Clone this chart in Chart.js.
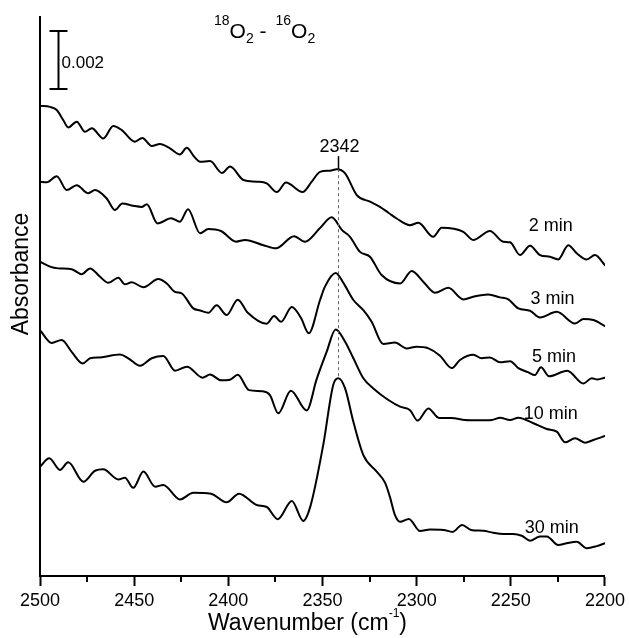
<!DOCTYPE html>
<html>
<head>
<meta charset="utf-8">
<script src="https://cdn.jsdelivr.net/npm/chart.js@4.4.1/dist/chart.umd.min.js"></script>
<style>
  body { margin: 0; background: #fff; }
  #wrap { width: 629px; height: 638px; }
</style>
</head>
<body>
<div id="wrap"><canvas id="myChart" width="629" height="638"></canvas></div>
<script>
// Wavenumber in cm-1, absorbance in units of 0.001 (curves stacked with their offsets as in the figure)
const wn2min = [2500, 2494.7, 2491.1, 2487.6, 2485.0, 2480.5, 2476.1, 2472.5, 2466.4, 2461.1, 2456.6, 2449.6, 2445.7, 2440.7, 2436.3, 2431.0, 2425.7, 2422.1, 2418.1, 2415.0, 2409.7, 2403.4, 2399.1, 2392.0, 2384.9, 2379.6, 2374.2, 2369.4, 2360.6, 2355.7, 2351.3, 2346.0, 2342.4, 2338.0, 2331.8, 2324.8, 2319.5, 2315.0, 2310.6, 2303.5, 2299.1, 2291.2, 2286.7, 2275.2, 2270.0, 2261.1, 2254.0, 2250.4, 2245.1, 2239.8, 2234.5, 2229.2, 2224.8, 2219.5, 2215.0, 2209.7, 2205.3, 2200];
const abs2min = [16.22, 16.18, 16.07, 15.72, 15.47, 15.67, 15.32, 15.44, 15.09, 15.52, 15.38, 14.98, 15.11, 14.83, 14.90, 14.75, 14.54, 14.77, 14.46, 14.29, 14.31, 13.90, 14.12, 13.66, 13.60, 13.54, 13.24, 13.57, 13.24, 13.60, 13.94, 13.98, 14.03, 13.89, 13.14, 12.91, 12.73, 12.53, 12.33, 12.10, 12.18, 11.70, 12.01, 11.87, 11.59, 11.90, 11.53, 11.51, 11.07, 11.39, 11.07, 11.01, 10.92, 11.41, 11.13, 10.92, 11.07, 10.72];

const wn3min = [2500, 2496.4, 2491.1, 2485.8, 2480.5, 2474.4, 2470.8, 2464.6, 2460.2, 2456.3, 2450.5, 2446.0, 2443.3, 2437.6, 2430.4, 2425.7, 2421.4, 2415.0, 2410.6, 2403.9, 2395.9, 2391.1, 2381.4, 2374.7, 2365.1, 2359.3, 2351.3, 2345.1, 2339.6, 2335.4, 2330.1, 2324.8, 2318.6, 2308.8, 2302.6, 2296.5, 2290.3, 2283.2, 2275.2, 2270.0, 2262.0, 2255.7, 2251.3, 2246.0, 2239.8, 2234.5, 2225.6, 2215.9, 2211.4, 2206.2, 2200];
const abs3min = [13.60, 13.58, 13.79, 13.31, 13.48, 13.20, 13.31, 13.02, 12.62, 12.85, 12.77, 12.73, 12.82, 12.16, 12.34, 12.22, 12.65, 11.82, 11.97, 11.90, 11.53, 11.59, 11.41, 11.30, 11.72, 11.53, 12.00, 12.37, 11.93, 11.70, 11.18, 11.01, 10.38, 10.09, 10.52, 10.15, 9.77, 9.94, 9.54, 9.63, 9.71, 9.61, 9.54, 9.23, 9.15, 8.92, 9.11, 8.71, 8.86, 8.83, 8.62];

const wn5min = [2500, 2494.7, 2490.3, 2483.2, 2477.9, 2473.4, 2468.1, 2463.7, 2458.4, 2454.9, 2451.3, 2445.1, 2437.2, 2432.7, 2428.3, 2424.8, 2418.6, 2415.0, 2410.6, 2406.2, 2400.9, 2395.0, 2389.8, 2379.6, 2375.7, 2372.0, 2366.3, 2361.4, 2357.3, 2351.3, 2348.7, 2343.0, 2339.0, 2333.6, 2328.3, 2323.9, 2317.7, 2311.5, 2305.3, 2300.0, 2294.0, 2287.6, 2281.4, 2277.0, 2269.9, 2265.5, 2261.1, 2255.7, 2250.4, 2246.0, 2240.9, 2237.2, 2234.0, 2229.7, 2220.0, 2211.5, 2207.0, 2204.0, 2200];
const abs5min = [10.84, 10.67, 10.61, 10.58, 10.41, 10.61, 10.32, 10.11, 10.29, 10.06, 10.13, 9.96, 10.24, 10.09, 9.80, 9.75, 9.23, 9.16, 9.08, 9.34, 9.00, 9.53, 9.09, 8.70, 8.97, 8.77, 9.28, 8.90, 8.37, 9.52, 9.98, 10.45, 10.12, 9.52, 9.17, 8.77, 8.00, 8.05, 7.85, 7.91, 7.86, 7.60, 7.17, 7.45, 7.63, 7.51, 7.54, 7.37, 7.41, 7.17, 7.03, 6.93, 7.20, 6.89, 7.08, 6.64, 6.82, 6.78, 6.84];

const wn10min = [2500, 2493.8, 2488.5, 2483.2, 2477.3, 2473.4, 2468.1, 2457.5, 2453.1, 2446.9, 2440.7, 2434.5, 2428.3, 2421.9, 2413.7, 2409.7, 2403.9, 2399.1, 2395.0, 2389.0, 2382.1, 2377.9, 2373.5, 2366.8, 2358.4, 2353.1, 2347.8, 2343.0, 2338.0, 2333.6, 2328.3, 2323.0, 2315.0, 2308.8, 2303.5, 2299.5, 2293.8, 2288.1, 2281.5, 2274.3, 2267.3, 2260.1, 2255.7, 2250.4, 2246.0, 2238.0, 2230.9, 2225.6, 2221.2, 2215.9, 2210.6, 2206.2, 2200];
const abs10min = [8.48, 8.04, 8.14, 7.73, 7.33, 7.51, 7.54, 7.64, 7.51, 7.25, 7.51, 7.59, 7.08, 7.22, 6.84, 6.95, 6.75, 6.77, 6.94, 6.41, 6.37, 6.24, 5.61, 6.39, 5.71, 6.79, 7.73, 8.50, 8.08, 7.51, 6.82, 6.47, 6.07, 5.84, 5.72, 5.36, 5.78, 5.45, 5.45, 5.38, 5.37, 5.38, 5.46, 5.38, 5.46, 5.27, 5.07, 4.98, 4.61, 4.75, 4.60, 4.69, 4.83];

const wn30min = [2500, 2495.1, 2489.4, 2485.0, 2477.0, 2470.8, 2466.4, 2458.4, 2454.9, 2450.5, 2445.1, 2438.9, 2434.5, 2425.7, 2418.6, 2409.2, 2400.9, 2394.3, 2384.9, 2379.6, 2373.7, 2366.3, 2360.2, 2356.4, 2349.6, 2344.3, 2341.6, 2338.0, 2333.6, 2328.3, 2321.2, 2316.8, 2314.2, 2311.5, 2308.8, 2304.1, 2298.2, 2292.9, 2285.8, 2280.9, 2275.9, 2271.1, 2264.6, 2259.3, 2254.0, 2248.7, 2244.2, 2239.8, 2234.5, 2230.9, 2224.8, 2220.3, 2215.0, 2209.7, 2204.4, 2200];
const abs30min = [3.77, 4.06, 3.66, 3.92, 3.25, 3.63, 3.68, 3.33, 3.39, 3.04, 3.60, 3.08, 3.14, 2.64, 2.87, 2.84, 2.54, 2.84, 2.45, 2.38, 1.96, 2.59, 1.90, 2.41, 4.52, 6.59, 6.82, 6.47, 5.32, 4.17, 3.60, 3.22, 2.73, 2.10, 1.87, 1.97, 1.55, 1.60, 1.59, 1.52, 1.76, 1.59, 1.56, 1.49, 1.45, 1.45, 1.39, 1.22, 1.36, 1.36, 1.07, 1.13, 1.18, 0.96, 1.03, 1.13];

const seriesNames = ['2 min', '3 min', '5 min', '10 min', '30 min'];
const peakWavenumber = 2342;
const scaleBarValue = 2; // 0.002 absorbance
const xMin = 2200, xMax = 2500, xStep = 25, xLabelStep = 50;

const FONT = "'Liberation Sans', Arial, Helvetica, sans-serif";
Chart.defaults.font.family = FONT;
Chart.defaults.color = '#000';

function toPoints(xs, ys) {
    const n = Math.min(xs.length, ys.length);
    const pts = [];
    for (let i = 0; i < n; i++) pts.push({ x: xs[i], y: ys[i] });
    return pts;
}

const allSeries = [
    [wn2min, abs2min],
    [wn3min, abs3min],
    [wn5min, abs5min],
    [wn10min, abs10min],
    [wn30min, abs30min]
];

// draws text pieces with super/subscripts, left to right
function drawPieces(ctx, x, y, pieces) {
    pieces.forEach(p => {
        ctx.font = p.size + 'px ' + FONT;
        const px = p.x !== undefined ? p.x : x;
        ctx.fillText(p.text, px, y + (p.dy || 0));
        x = px + ctx.measureText(p.text).width;
    });
    return x;
}

const spectraDecor = {
    id: 'spectraDecor',
    afterDraw(chart) {
        const ctx = chart.ctx;
        const xs = chart.scales.x;
        const ys = chart.scales.y;
        const area = chart.chartArea;
        ctx.save();
        ctx.fillStyle = '#000';
        ctx.strokeStyle = '#000';

        // minor ticks
        ctx.lineWidth = 2;
        xs.ticks.forEach(t => {
            if (t.value % xLabelStep !== 0) {
                const px = Math.round(xs.getPixelForValue(t.value));
                ctx.beginPath();
                ctx.moveTo(px, area.bottom);
                ctx.lineTo(px, area.bottom + 6);
                ctx.stroke();
            }
        });

        // dashed marker at the peak
        const peakX = Math.round(xs.getPixelForValue(peakWavenumber)) + 0.5;
        ctx.save();
        ctx.strokeStyle = '#666';
        ctx.lineWidth = 1;
        ctx.setLineDash([3, 3]);
        ctx.beginPath();
        ctx.moveTo(peakX, ys.getPixelForValue(14.03));
        ctx.lineTo(peakX, ys.getPixelForValue(6.82));
        ctx.stroke();
        ctx.restore();

        ctx.lineWidth = 1.5;
        ctx.beginPath();
        ctx.moveTo(peakX, ys.getPixelForValue(14.48));
        ctx.lineTo(peakX, ys.getPixelForValue(14.03));
        ctx.stroke();
        ctx.font = '18px ' + FONT;
        ctx.textAlign = 'center';
        ctx.textBaseline = 'alphabetic';
        ctx.fillText(String(peakWavenumber), peakX + 1, ys.getPixelForValue(14.63));

        // curve labels
        const labelPos = [[2228.8, 11.90], [2227.9, 9.38], [2227.1, 7.39], [2228.8, 5.40], [2228.3, 1.49]];
        seriesNames.forEach((name, i) => {
            ctx.fillText(name, xs.getPixelForValue(labelPos[i][0]), ys.getPixelForValue(labelPos[i][1]));
        });

        // scale bar
        const barX = Math.round(xs.getPixelForValue(2490.4)) + 0.5;
        const barTop = ys.getPixelForValue(16.8 + scaleBarValue);
        const barBottom = ys.getPixelForValue(16.8);
        ctx.lineWidth = 2;
        ctx.beginPath();
        ctx.moveTo(barX, barTop);
        ctx.lineTo(barX, barBottom);
        ctx.moveTo(barX - 9, barTop);
        ctx.lineTo(barX + 9, barTop);
        ctx.moveTo(barX - 9, barBottom);
        ctx.lineTo(barX + 9, barBottom);
        ctx.stroke();
        ctx.textAlign = 'left';
        ctx.font = '17px ' + FONT;
        ctx.fillText((scaleBarValue / 1000).toFixed(3), barX + 3, ys.getPixelForValue(17.52));

        // title 18O2 - 16O2
        drawPieces(ctx, 214, 38.3, [
            { text: '18', size: 14, dy: -13 },
            { text: 'O', size: 21 },
            { text: '2', size: 14, dy: 5 },
            { text: '-', size: 21, x: 259.5 },
            { text: '16', size: 14, dy: -13, x: 275.5 },
            { text: 'O', size: 21 },
            { text: '2', size: 14, dy: 5 }
        ]);

        // x axis title with superscript
        drawPieces(ctx, 208, 630, [
            { text: 'Wavenumber (cm', size: 23 },
            { text: '-1', size: 12, dy: -13 },
            { text: ')', size: 23 }
        ]);

        // y axis title
        ctx.save();
        ctx.translate(28, 274);
        ctx.rotate(-Math.PI / 2);
        ctx.textAlign = 'center';
        ctx.font = '23px ' + FONT;
        ctx.fillText('Absorbance', 0, 0);
        ctx.restore();

        ctx.restore();
    }
};

new Chart(document.getElementById('myChart').getContext('2d'), {
    type: 'line',
    data: {
        datasets: allSeries.map((s, i) => ({
            label: seriesNames[i],
            data: toPoints(s[0], s[1]),
            borderColor: '#000',
            borderWidth: 2,
            borderJoinStyle: 'round',
            borderCapStyle: 'round',
            pointRadius: 0,
            fill: false,
            cubicInterpolationMode: 'monotone'
        }))
    },
    options: {
        responsive: false,
        animation: false,
        layout: { padding: { left: 0, top: 17, right: 24, bottom: 0 } },
        plugins: {
            legend: { display: false },
            tooltip: { enabled: false },
            title: { display: false }
        },
        scales: {
            x: {
                type: 'linear',
                reverse: true,
                min: xMin,
                max: xMax,
                ticks: {
                    stepSize: xStep,
                    autoSkip: false,
                    maxRotation: 0,
                    padding: 4,
                    font: { size: 18 },
                    color: '#000',
                    callback: v => (v % xLabelStep === 0 ? String(v) : '')
                },
                grid: {
                    display: true,
                    drawOnChartArea: false,
                    drawTicks: true,
                    tickLength: 10,
                    tickWidth: 2,
                    tickColor: c => (c.tick && c.tick.value % xLabelStep === 0 ? '#000' : 'rgba(0,0,0,0)')
                },
                border: { display: true, color: '#000', width: 2 },
                afterFit: scale => { scale.height = 62; }
            },
            y: {
                type: 'linear',
                min: 0,
                max: 19.28,
                ticks: { display: false },
                grid: { display: false },
                border: { display: true, color: '#000', width: 2 },
                afterFit: scale => { scale.width = 40; }
            }
        }
    },
    plugins: [spectraDecor]
});
</script>
</body>
</html>
